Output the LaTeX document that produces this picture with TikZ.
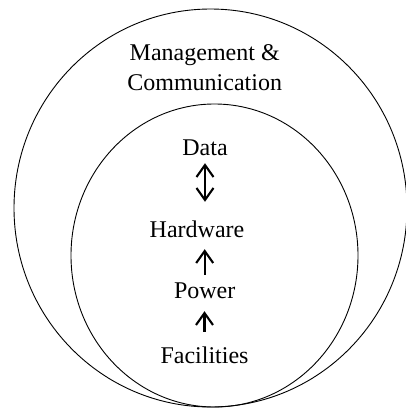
\documentclass[tikz,border=0pt]{standalone}
\usepackage{fontspec}
\setmainfont{Liberation Serif}
\usetikzlibrary{arrows.meta}
\begin{document}
\begin{tikzpicture}[x=1pt,y=-1pt,
  lbl/.style={font=\fontsize{24}{28}\selectfont, inner sep=0pt, anchor=base, text height=16pt, text depth=0pt},
  ring/.style={draw=black, line width=0.9pt},
  conn/.style={line width=2.1pt, -{Straight Barb[length=12pt,width=17pt,line width=2.1pt]}},
  dconn/.style={line width=2.1pt, {Straight Barb[length=12pt,width=17pt,line width=2.1pt]}-{Straight Barb[length=12pt,width=17pt,line width=2.1pt]}}]
\useasboundingbox (0,0) rectangle (406,408);
\draw[ring] (210.5,208) ellipse [x radius=196.5, y radius=199];
\draw[ring] (214.5,255.5) ellipse [x radius=143.5, y radius=151.5];
\node[lbl] (mgmt) at (204.7,60) {Management \&};
\node[lbl] (comm) at (204.7,90) {Communication};
\node[lbl] (data) at (205,155) {Data};
\node[lbl] (hw) at (197,237) {Hardware};
\node[lbl] (pow) at (204.7,298) {Power};
\node[lbl] (fac) at (204.5,363) {Facilities};
\draw[dconn, shorten <=8pt, shorten >=19pt] (data.south) -- (data.south |- hw.north);
\draw[conn, shorten <=7pt, shorten >=12pt] (pow.north) -- (pow.north |- hw.south);
\draw[conn, shorten <=15pt, shorten >=13pt] (fac.north) -- (fac.north |- pow.south);
\end{tikzpicture}
\end{document}
